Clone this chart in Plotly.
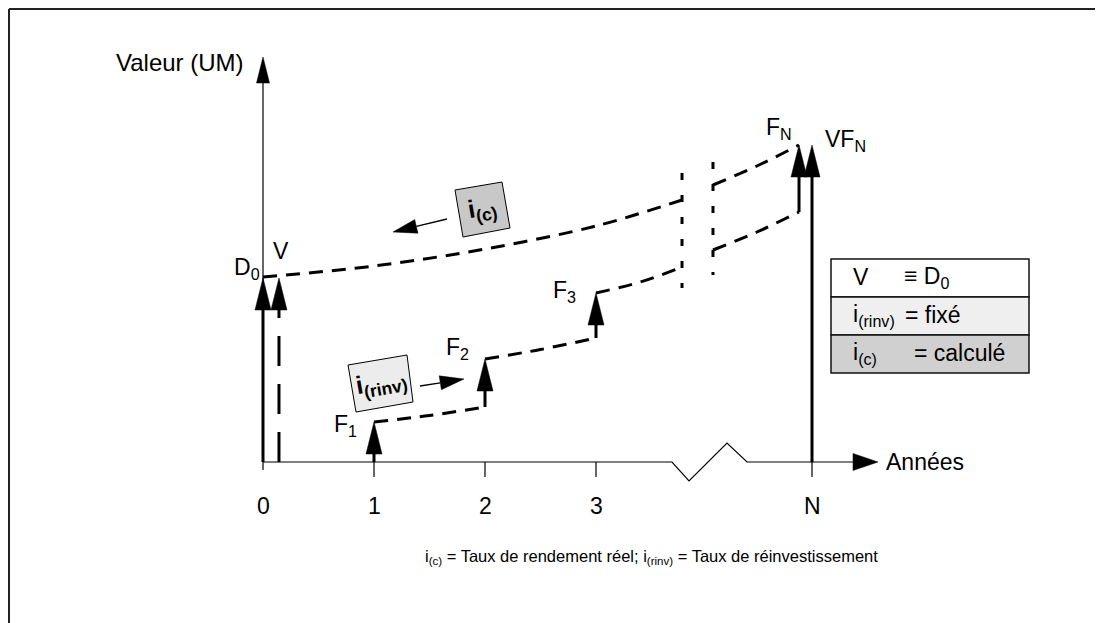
import math
import plotly.graph_objects as go

# ---------------- data ----------------
year_pos = [0, 1, 2, 3, 4.946]
year_labels = ["0", "1", "2", "3", "N"]

D0_value = 18.4            # initial value D0 (= V)
V_x = 0.144                # V arrow drawn just right of year 0
flow_x = [1, 2, 3, 4.829]  # reinvested cash flows F1, F2, F3, FN
flow_from = [0.0, 5.5, 12.4, 25.0]
flow_to = [4.0, 10.3, 16.9, 31.7]
flow_labels = ["F<sub>1</sub>", "F<sub>2</sub>", "F<sub>3</sub>", "F<sub>N</sub>"]
VFN_value = 31.7

# reinvestment (i(rinv)) curve segments
rinv_x = [[1, 1.5, 2], [2, 2.5, 3], [3, 3.4, 3.775], [4.054, 4.45, 4.829]]
rinv_y = [[4.0, 4.65, 5.5], [10.3, 11.25, 12.4], [16.9, 18.0, 19.5], [21.2, 23.0, 25.0]]
# computed rate (i(c)) curve segments
ic_x = [[0, 1, 2, 3, 3.775], [4.054, 4.45, 4.829]]
ic_y = [[18.5, 19.6, 21.3, 23.6, 26.2], [27.7, 29.6, 31.7]]
# axis-break dashed verticals
break_x = [3.775, 4.054]
break_y0 = [17.4, 18.7]
break_y1 = [28.9, 30.0]

legend_rows = [("V", "≡ D<sub>0</sub>"), ("i<sub>(rinv)</sub>", "= fixé"), ("i<sub>(c)</sub>", "= calculé")]
legend_fills = ["#ffffff", "#efefef", "#d0d0d0"]

# ---------------- geometry helpers ----------------
W, H = 1103, 623
OFF = 8                    # page margin offset of the screenshot
X0, XU = 263, 111.0
Y0, YU = 462, 10.0


def dx(px):
    return (px - X0) / XU


def dy(py):
    return (Y0 - py) / YU


FONT = "Liberation Sans, Arial, sans-serif"
fig = go.Figure()


def line(xs, ys, width=1.2, dash="solid", color="black"):
    fig.add_trace(go.Scatter(x=xs, y=ys, mode="lines",
                             line=dict(color=color, width=width, dash=dash),
                             hoverinfo="skip", showlegend=False))


def spline(xs, ys, width=3, dash="14px,9px"):
    fig.add_trace(go.Scatter(x=xs, y=ys, mode="lines",
                             line=dict(color="black", width=width, dash=dash, shape="spline", smoothing=1.0),
                             hoverinfo="skip", showlegend=False))


def tri(pts, fill="black"):
    xs = [p[0] for p in pts] + [pts[0][0]]
    ys = [p[1] for p in pts] + [pts[0][1]]
    fig.add_trace(go.Scatter(x=xs, y=ys, mode="lines", fill="toself", fillcolor=fill,
                             line=dict(color=fill, width=0.5), hoverinfo="skip", showlegend=False))


HEAD_H = 3.2              # arrow head height (value units)
HEAD_HW = 8 / XU          # arrow head half width (year units)


def up_arrow(x, y_from, y_to, dash="solid"):
    base = y_to - HEAD_H
    if base > y_from:
        line([x, x], [y_from, base], width=3, dash=dash)
    tri([(x - HEAD_HW, base), (x + HEAD_HW, base), (x, y_to)])


def thin_arrow(p1, p2, L=24, hw=7):
    (x1, y1), (x2, y2) = p1, p2
    d = math.hypot(x2 - x1, y2 - y1)
    ux, uy = (x2 - x1) / d, (y2 - y1) / d
    bx, by = x2 - L * ux, y2 - L * uy
    nx, ny = -uy, ux
    line([dx(x1), dx(bx)], [dy(y1), dy(by)], width=1.3)
    tri([(dx(bx + hw * nx), dy(by + hw * ny)), (dx(bx - hw * nx), dy(by - hw * ny)), (dx(x2), dy(y2))])


def label(x, y, text, size=23, xanchor="center", yanchor="middle", bold=False, angle=0):
    fig.add_annotation(x=x, y=y, xref="x", yref="y", text=("<b>%s</b>" % text) if bold else text,
                       showarrow=False, xanchor=xanchor, yanchor=yanchor, textangle=angle,
                       font=dict(family=FONT, size=size, color="black"))


# ---------------- axes ----------------
line([0, 0], [dy(470), dy(83)], width=1.2)
tri([(-6.5 / XU, dy(83)), (6.5 / XU, dy(83)), (0, dy(57))])
label(dx(246), dy(62), "Valeur (UM)", size=24, xanchor="right")

ax_px = [263, 672, 689, 727, 747, 855]
ax_py = [462, 462, 481, 443, 462, 462]
line([dx(p) for p in ax_px], [dy(p) for p in ax_py], width=1.2)
tri([(dx(853), dy(453.5)), (dx(853), dy(470.5)), (dx(878), 0)])
label(dx(884), 0, "Années", xanchor="left")

for xp, lab in zip(year_pos, year_labels):
    if xp > 0:
        line([xp, xp], [0, dy(477)], width=1.2)
    label(xp, dy(506), lab)

# ---------------- initial value ----------------
up_arrow(0, 0, D0_value)
up_arrow(V_x, 0, D0_value, dash="30px,18px")
label(dx(247), dy(268), "D<sub>0</sub>")
label(dx(281), dy(251), "V")

# ---------------- curves ----------------
for xs, ys in zip(rinv_x, rinv_y):
    spline(xs, ys)
for xs, ys in zip(ic_x, ic_y):
    spline(xs, ys)
for bx, b0, b1 in zip(break_x, break_y0, break_y1):
    line([bx, bx], [b1, b0], width=3, dash="7px,15px")

# ---------------- flows ----------------
for xf, y0, y1 in zip(flow_x, flow_from, flow_to):
    up_arrow(xf, y0, y1)
up_arrow(year_pos[-1], 0, VFN_value)

label(dx(345), dy(425), flow_labels[0])
label(dx(457), dy(348), flow_labels[1])
label(dx(564), dy(291), flow_labels[2])
label(dx(779), dy(128), flow_labels[3])
label(dx(845), dy(140), "VF<sub>N</sub>")

# ---------------- rotated rate boxes ----------------
box_c = [(455, 190), (502, 182), (510, 228), (463, 237)]
box_r = [(348, 365), (407, 355), (413, 402), (356, 412)]
for box, fillc in ((box_c, "#c8c8c8"), (box_r, "#ececec")):
    xs = [dx(p[0]) for p in box] + [dx(box[0][0])]
    ys = [dy(p[1]) for p in box] + [dy(box[0][1])]
    fig.add_trace(go.Scatter(x=xs, y=ys, mode="lines", fill="toself", fillcolor=fillc,
                             line=dict(color="black", width=1), hoverinfo="skip", showlegend=False))
label(dx(482), dy(209), "i<sub>(c)</sub>", size=25, bold=True, angle=-10)
label(dx(381), dy(383), "i<sub>(rinv)</sub>", size=25, bold=True, angle=-10)

thin_arrow((447, 219), (393, 232))
thin_arrow((420, 386), (464, 379))

# ---------------- legend table ----------------
shapes = []
rows_y = [259, 297, 335, 373]
for i, fc in enumerate(legend_fills):
    shapes.append(dict(type="rect", xref="x", yref="y", x0=dx(831), x1=dx(1029),
                       y0=dy(rows_y[i]), y1=dy(rows_y[i + 1]), fillcolor=fc,
                       line=dict(color="#111", width=1.5), layer="below"))
eq_x = [902, 903, 912]
for i, (a, b) in enumerate(legend_rows):
    yc = (rows_y[i] + rows_y[i + 1]) / 2 - 1
    label(dx(851), dy(yc), a, xanchor="left")
    label(dx(eq_x[i]), dy(yc), b, xanchor="left")

# ---------------- frame & caption ----------------
shapes.append(dict(type="line", xref="paper", yref="paper", x0=1 / W, x1=1 / W, y0=-0.02, y1=1 - 1 / H,
                   line=dict(color="#222", width=2)))
shapes.append(dict(type="line", xref="paper", yref="paper", x0=1 / W, x1=1.02, y0=1 - 1 / H, y1=1 - 1 / H,
                   line=dict(color="#222", width=2)))

fig.add_annotation(x=dx(423), y=dy(557), xref="x", yref="y", showarrow=False, xanchor="left", yanchor="middle",
                   text="i<sub>(c)</sub> = Taux de rendement réel; i<sub>(rinv)</sub> = Taux de réinvestissement",
                   font=dict(family=FONT, size=16.5, color="black"))

fig.update_layout(
    width=W, height=H, margin=dict(l=0, r=0, t=0, b=0),
    paper_bgcolor="white", plot_bgcolor="white", shapes=shapes, hovermode=False,
    xaxis=dict(range=[dx(OFF), dx(OFF + W)], visible=False, fixedrange=True),
    yaxis=dict(range=[dy(OFF + H), dy(OFF)], visible=False, fixedrange=True),
)
fig.write_html("out.html")
